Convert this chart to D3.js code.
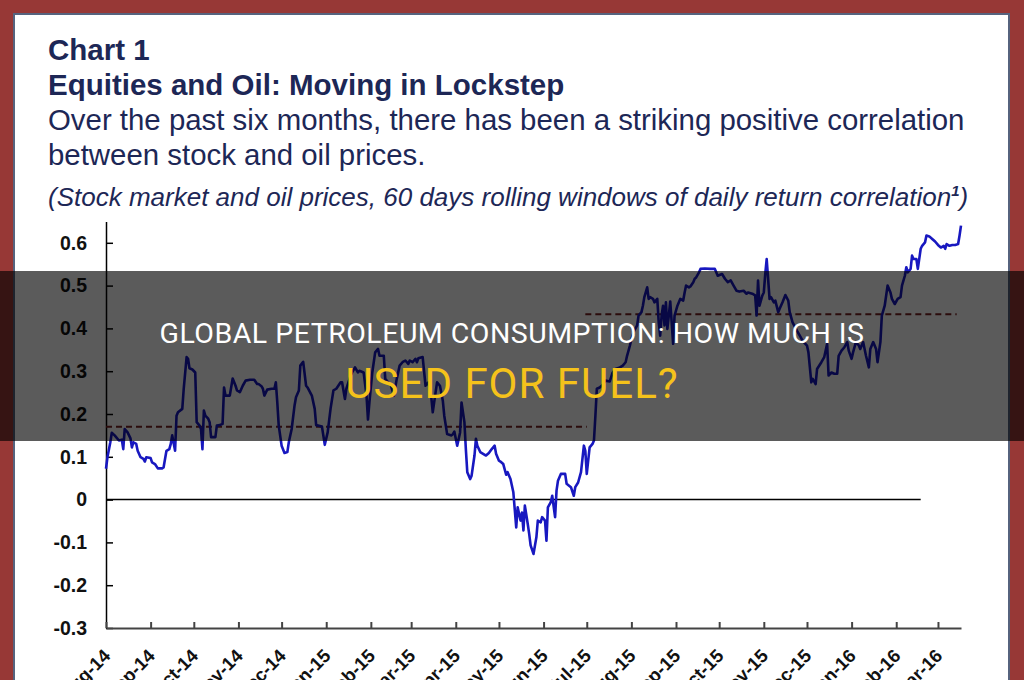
<!DOCTYPE html>
<html>
<head>
<meta charset="utf-8">
<script src="https://cdn.jsdelivr.net/npm/d3@7"></script>
<style>
  body { margin: 0; background: #973836; }
  svg { display: block; }
</style>
</head>
<body>
<div id="chart"></div>
<script>
(function () {
  const W = 1024, H = 680;

  // x values: days since 1 Aug 2014
  const days = [
    0, 1, 3, 4, 6, 9, 11, 12, 13, 15,
    17, 18, 19, 21, 22, 24, 26, 27, 28, 31,
    32, 34, 36, 39, 40, 42, 44, 45, 46, 48,
    49, 50, 53, 54, 56, 57, 58, 60, 62, 63,
    65, 66, 67, 68, 69, 71, 72, 73, 76, 77,
    79, 81, 82, 83, 86, 88, 90, 91, 93, 95,
    97, 100, 103, 105, 106, 108, 109, 110, 112, 115,
    117, 118, 119, 120, 122, 124, 126, 127, 129, 131,
    132, 134, 135, 137, 139, 140, 143, 145, 146, 150,
    152, 154, 156, 158, 160, 163, 164, 166, 167, 170,
    171, 173, 175, 176, 179, 181, 182, 183, 185, 187,
    189, 190, 193, 194, 196, 198, 200, 202, 204, 206,
    208, 210, 211, 213, 215, 216, 217, 220, 222, 224,
    226, 227, 229, 230, 232, 234, 235, 237, 240, 241,
    242, 244, 246, 247, 249, 250, 251, 253, 254, 256,
    257, 258, 260, 262, 264, 266, 268, 270, 271, 273,
    274, 276, 278, 279, 281, 283, 285, 286, 288, 289,
    290, 291, 293, 294, 295, 297, 299, 300, 302, 303,
    305, 306, 307, 309, 310, 312, 313, 314, 316, 319,
    320, 323, 325, 326, 328, 330, 331, 332, 333, 334,
    336, 338, 339, 340, 341, 343, 345, 347, 350, 352,
    354, 357, 359, 361, 362, 364, 365, 367, 369, 370,
    372, 373, 374, 376, 377, 378, 380, 381, 383, 384,
    385, 386, 387, 388, 389, 390, 391, 392, 393, 394,
    395, 397, 398, 399, 401, 402, 403, 405, 406, 408,
    409, 410, 412, 413, 416, 420, 423, 425, 428, 430,
    432, 434, 436, 438, 440, 443, 445, 446, 449, 451,
    452, 453, 454, 456, 457, 458, 459, 461, 462, 464,
    465, 467, 468, 470, 472, 474, 475, 477, 480, 482,
    484, 487, 488, 490, 491, 493, 494, 497, 499, 501,
    502, 504, 506, 508, 509, 511, 513, 515, 516, 518,
    519, 521, 523, 524, 526, 528, 530, 531, 533, 535,
    536, 538, 539, 541, 543, 545, 546, 548, 550, 552,
    553, 555, 556, 557, 559, 560, 561, 563, 564, 566,
    567, 569, 570, 572, 574, 576, 578, 580, 582, 583,
    584, 586, 588, 590, 592, 593, 594
  ];

  const corr = [
    .072, .099, .134, .156, .150, .138, .140, .118, .165, .157,
    .143, .122, .134, .130, .114, .099, .095, .089, .099, .097,
    .087, .083, .073, .073, .075, .114, .118, .130, .150, .114,
    .196, .204, .212, .259, .333, .329, .307, .304, .297, .181,
    .173, .165, .118, .208, .196, .189, .181, .146, .146, .173,
    .174, .177, .262, .243, .243, .283, .266, .255, .251, .266,
    .278, .280, .280, .270, .270, .265, .259, .243, .257, .259,
    .259, .274, .227, .173, .126, .109, .111, .134, .165, .220,
    .239, .255, .313, .322, .266, .262, .243, .212, .174, .171,
    .128, .157, .212, .255, .259, .274, .274, .235, .259, .290,
    .297, .309, .297, .301, .297, .243, .187, .227, .297, .344,
    .352, .336, .336, .282, .274, .266, .243, .282, .313, .321,
    .325, .317, .325, .321, .329, .321, .330, .333, .266, .274,
    .239, .204, .251, .274, .266, .231, .196, .153, .150, .153,
    .159, .126, .157, .227, .181, .118, .064, .048, .056, .103,
    .142, .126, .111, .107, .103, .109, .118, .126, .107, .091,
    .089, .083, .058, .064, .048, .017, -.065, -.018, -.049, -.030,
    -.072, -.014, -.057, -.080, -.107, -.127, -.088, -.049, -.053, -.041,
    -.049, -.096, -.018, -.006, .009, -.041, .021, .044, .060, .060,
    .037, .029, .009, .029, .040, .064, .095, .126, .114, .060,
    .122, .130, .138, .196, .259, .262, .268, .278, .276, .297,
    .305, .309, .313, .321, .336, .360, .375, .395, .407, .430,
    .438, .453, .473, .496, .469, .473, .469, .461, .469, .414,
    .383, .430, .453, .407, .461, .399, .430, .463, .414, .364,
    .430, .453, .461, .469, .465, .484, .500, .496, .498, .508,
    .516, .519, .531, .539, .540, .539, .539, .523, .527, .516,
    .508, .512, .500, .488, .486, .488, .481, .484, .481, .477,
    .430, .512, .453, .477, .484, .527, .562, .469, .473, .461,
    .465, .438, .446, .461, .478, .465, .438, .414, .395, .383,
    .371, .360, .344, .274, .282, .270, .305, .321, .333, .364,
    .290, .297, .294, .294, .336, .348, .356, .368, .348, .329,
    .344, .368, .360, .352, .368, .336, .309, .352, .368, .352,
    .321, .368, .430, .453, .500, .484, .469, .457, .469, .473,
    .500, .523, .543, .531, .539, .570, .562, .562, .539, .586,
    .593, .601, .617, .615, .609, .603, .595, .589, .593, .586,
    .597, .593, .595, .595, .597, .617, .640
  ];

  // period averages (dashed)
  const avgFrom = [0, 333];
  const avgTo = [334, 591];
  const avgValue = [0.17, 0.433];
  const zeroLineTo = 566;

  const monthTicks = [
    "2014-08-01", "2014-09-01", "2014-10-01", "2014-11-01", "2014-12-01",
    "2015-01-01", "2015-02-01", "2015-03-01", "2015-04-01", "2015-05-01",
    "2015-06-01", "2015-07-01", "2015-08-01", "2015-09-01", "2015-10-01",
    "2015-11-01", "2015-12-01", "2016-01-01", "2016-02-01", "2016-03-01"
  ];
  const yTicks = [-0.3, -0.2, -0.1, 0, 0.1, 0.2, 0.3, 0.4, 0.5, 0.6];

  const titleLines = [
    "Chart 1",
    "Equities and Oil: Moving in Lockstep",
    "Over the past six months, there has been a striking positive correlation",
    "between stock and oil prices."
  ];
  const noteText = "(Stock market and oil prices, 60 days rolling windows of daily return correlation";
  const bannerLines = ["GLOBAL PETROLEUM CONSUMPTION: HOW MUCH IS", "USED FOR FUEL?"];

  const start = new Date(2014, 7, 1);
  const parse = d3.timeParse("%Y-%m-%d");
  const toDate = function (d) { return d3.timeDay.offset(start, d); };

  const plot = {left: 106, right: 961, top: 221.4, bottom: 628};

  const x = d3.scaleTime()
    .domain([start, toDate(594)])
    .range([plot.left, plot.right]);

  const y = d3.scaleLinear()
    .domain([-0.3, 0.65])
    .range([plot.bottom, plot.top]);

  const svg = d3.select("#chart").append("svg")
    .attr("width", W)
    .attr("height", H);

  svg.append("rect")
    .attr("width", W).attr("height", H)
    .attr("fill", "#973836");

  svg.append("rect")
    .attr("x", 14).attr("y", 14)
    .attr("width", 995).attr("height", 720)
    .attr("fill", "#ffffff")
    .attr("stroke", "#56637e")
    .attr("stroke-width", 2);

  // titles
  const navy = "#1d2756";
  const titleY = [60, 95, 130, 165];
  titleLines.forEach(function (t, i) {
    svg.append("text")
      .attr("x", 48)
      .attr("y", titleY[i])
      .attr("fill", navy)
      .style("font-family", "'Liberation Sans', Arial, sans-serif")
      .style("font-size", i < 2 ? "29.5px" : "29.4px")
      .style("font-weight", i < 2 ? "bold" : "normal")
      .text(t);
  });

  const note = svg.append("text")
    .attr("x", 48)
    .attr("y", 206)
    .attr("fill", navy)
    .style("font-family", "'Liberation Sans', Arial, sans-serif")
    .style("font-size", "26px")
    .style("font-style", "italic");
  note.append("tspan").text(noteText);
  note.append("tspan")
    .attr("dy", -10)
    .style("font-size", "15px")
    .style("font-weight", "bold")
    .text("1");
  note.append("tspan").attr("dy", 10).text(")");

  // y axis
  svg.append("g")
    .attr("class", "axis y")
    .attr("transform", "translate(" + plot.left + ",0)")
    .call(d3.axisLeft(y)
      .tickValues(yTicks)
      .tickSizeInner(-7)
      .tickSizeOuter(0)
      .tickPadding(19)
      .tickFormat(function (d) { return String(d); }));

  // x axis
  const xAxis = svg.append("g")
    .attr("class", "axis x")
    .attr("transform", "translate(0," + plot.bottom + ")")
    .call(d3.axisBottom(x)
      .tickValues(monthTicks.map(parse))
      .tickSizeInner(-6)
      .tickSizeOuter(0)
      .tickFormat(d3.timeFormat("%b-%y")));

  xAxis.selectAll("text")
    .attr("x", 0)
    .attr("y", 0)
    .attr("dy", 0)
    .attr("text-anchor", "end")
    .attr("transform", "translate(5,29) rotate(-45)");

  svg.selectAll(".axis text")
    .attr("fill", "#111")
    .style("font-family", "'Liberation Sans', Arial, sans-serif")
    .style("font-weight", "bold");
  svg.selectAll(".axis.y text").style("font-size", "19.5px");
  svg.selectAll(".axis.x text").style("font-size", "18.5px");
  svg.selectAll(".axis.y path, .axis.y line")
    .attr("stroke", "#000").attr("stroke-width", 1.5);
  svg.selectAll(".axis.x path, .axis.x line")
    .attr("stroke", "#444").attr("stroke-width", 2);

  // zero line
  svg.append("line")
    .attr("x1", x(start)).attr("x2", x(toDate(zeroLineTo)))
    .attr("y1", y(0)).attr("y2", y(0))
    .attr("stroke", "#000")
    .attr("stroke-width", 1.5);

  // period averages
  avgValue.forEach(function (v, i) {
    svg.append("line")
      .attr("x1", x(toDate(avgFrom[i]))).attr("x2", x(toDate(avgTo[i])))
      .attr("y1", y(v)).attr("y2", y(v))
      .attr("stroke", "#7a2222")
      .attr("stroke-width", 2)
      .attr("stroke-dasharray", "6,4");
  });

  // correlation series
  const line = d3.line()
    .x(function (d, i) { return x(toDate(days[i])); })
    .y(function (d) { return y(d); });

  svg.append("path")
    .attr("d", line(corr))
    .attr("fill", "none")
    .attr("stroke", "#1818c0")
    .attr("stroke-width", 2.6)
    .attr("stroke-linejoin", "round");

  // banner overlay
  svg.append("rect")
    .attr("x", 0).attr("y", 271)
    .attr("width", W).attr("height", 170)
    .attr("fill", "#000")
    .attr("fill-opacity", 0.645);

  svg.append("text")
    .attr("x", W / 2).attr("y", 343)
    .attr("text-anchor", "middle")
    .attr("fill", "#ffffff")
    .style("font-family", "Roboto, sans-serif")
    .style("font-size", "28.5px")
    .style("letter-spacing", "0.5px")
    .text(bannerLines[0]);

  svg.append("text")
    .attr("x", W / 2).attr("y", 398)
    .attr("text-anchor", "middle")
    .attr("fill", "#f5c21b")
    .style("font-family", "Roboto, sans-serif")
    .style("font-size", "42px")
    .style("letter-spacing", "1px")
    .text(bannerLines[1]);
})();
</script>
</body>
</html>
